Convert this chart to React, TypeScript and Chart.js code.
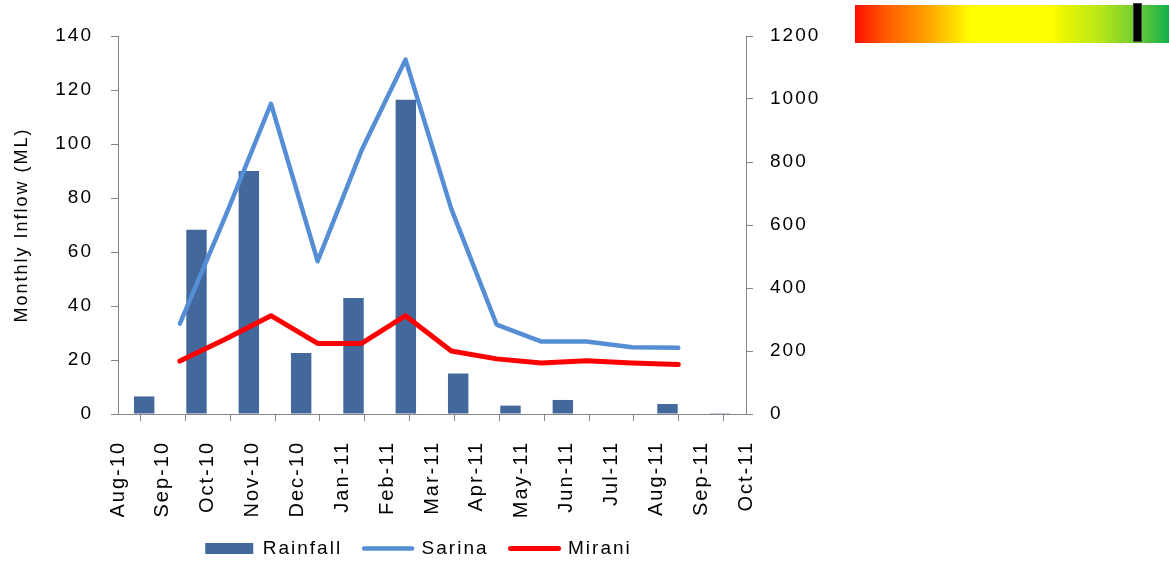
import React, { useEffect, useRef } from 'react';
import { Chart, registerables } from 'chart.js';

Chart.register(...registerables);

// Axis tick labels (month boundaries of the date axis)
const monthTicks = [
  'Aug-10', 'Sep-10', 'Oct-10', 'Nov-10', 'Dec-10', 'Jan-11', 'Feb-11', 'Mar-11',
  'Apr-11', 'May-11', 'Jun-11', 'Jul-11', 'Aug-11', 'Sep-11', 'Oct-11',
];

// Rainfall bars (left axis, 12 categories)
const rainfallMonths = [
  'Sep-10', 'Oct-10', 'Nov-10', 'Dec-10', 'Jan-11', 'Feb-11',
  'Mar-11', 'Apr-11', 'May-11', 'Jun-11', 'Jul-11', 'Aug-11',
];
const rainfall = [6.5, 68.2, 90, 22.6, 43, 116.4, 15, 3.1, 5.2, 0, 3.7, 0.3];

// Line series positions on the date axis (months since Aug-10)
const lineMonthPos = [1.38, 2.4, 3.41, 4.45, 5.43, 6.41, 7.43, 8.44, 9.44, 10.44, 11.46, 12.49];
const sarina = [287, 630, 985, 485, 837, 1125, 651, 284, 230, 230, 212, 210];
const mirani = [168, 238, 312, 224, 224, 312, 200, 175, 162, 169, 162, 157];

const FONT_FAMILY = "'Liberation Sans', Arial, Helvetica, sans-serif";
const AXIS_GRAY = '#868686';
const BAR_COLOR = '#43699C';
const SARINA_COLOR = '#558ED5';
const MIRANI_COLOR = '#FF0000';

const letterSpacingPlugin = {
  id: 'letterSpacingPlugin',
  beforeUpdate(chart: any) { chart.ctx.letterSpacing = '2px'; },
  beforeLayout(chart: any) { chart.ctx.letterSpacing = '2px'; },
  beforeDraw(chart: any) { chart.ctx.letterSpacing = '2px'; },
};

export default function App() {
  const canvasRef = useRef<HTMLCanvasElement | null>(null);

  useEffect(() => {
    if (!canvasRef.current) return;
    const font = { family: FONT_FAMILY, size: 19 };
    const chart = new Chart(canvasRef.current, {
      type: 'bar',
      data: {
        labels: rainfallMonths,
        datasets: [
          {
            type: 'bar',
            label: 'Rainfall',
            data: rainfall,
            backgroundColor: BAR_COLOR,
            borderWidth: 0,
            xAxisID: 'xb',
            yAxisID: 'y',
            grouped: false,
            barPercentage: 0.39,
            categoryPercentage: 1,
            order: 3,
          } as any,
          {
            type: 'line',
            label: 'Sarina',
            data: lineMonthPos.map((m, i) => ({ x: m, y: sarina[i] })),
            borderColor: SARINA_COLOR,
            backgroundColor: SARINA_COLOR,
            borderWidth: 4.5,
            pointRadius: 0,
            tension: 0,
            borderCapStyle: 'round',
            borderJoinStyle: 'round',
            xAxisID: 'x',
            yAxisID: 'y1',
            order: 2,
          } as any,
          {
            type: 'line',
            label: 'Mirani',
            data: lineMonthPos.map((m, i) => ({ x: m, y: mirani[i] })),
            borderColor: MIRANI_COLOR,
            backgroundColor: MIRANI_COLOR,
            borderWidth: 5,
            pointRadius: 0,
            tension: 0,
            borderCapStyle: 'round',
            borderJoinStyle: 'round',
            xAxisID: 'x',
            yAxisID: 'y1',
            order: 1,
          } as any,
        ],
      },
      options: {
        responsive: false,
        animation: false,
        devicePixelRatio: 1,
        events: [],
        layout: { padding: { top: 36, left: 0, right: 0, bottom: 0 } },
        plugins: {
          tooltip: { enabled: false },
          legend: {
            display: true,
            position: 'bottom',
            labels: {
              usePointStyle: true,
              pointStyleWidth: 48,
              boxHeight: 11,
              padding: 22,
              color: '#000',
              font,
              generateLabels: (c: any) =>
                c.data.datasets.map((ds: any, i: number) => ({
                  text: ds.label,
                  fillStyle: i === 0 ? BAR_COLOR : 'rgba(0,0,0,0)',
                  strokeStyle: i === 0 ? BAR_COLOR : ds.borderColor,
                  lineWidth: i === 0 ? 0 : ds.borderWidth,
                  lineCap: 'round',
                  pointStyle: i === 0 ? 'rect' : 'line',
                  hidden: false,
                  datasetIndex: i,
                  fontColor: '#000',
                })),
            },
          },
        },
        scales: {
          xb: {
            type: 'category',
            display: false,
            offset: true,
            grid: { display: false },
          },
          x: {
            type: 'linear',
            position: 'bottom',
            min: 0,
            max: 14,
            offset: false,
            ticks: {
              stepSize: 1,
              autoSkip: false,
              maxRotation: 90,
              minRotation: 90,
              padding: 20,
              color: '#000',
              font: { family: FONT_FAMILY, size: 20 },
              callback: (v: any) => monthTicks[Math.round(Number(v))] ?? '',
            },
            grid: { drawOnChartArea: false, drawTicks: true, tickLength: 7, color: AXIS_GRAY },
            border: { display: true, color: AXIS_GRAY, width: 1 },
            afterFit: (s: any) => { s.height = 103; },
          },
          y: {
            type: 'linear',
            position: 'left',
            min: 0,
            max: 140,
            ticks: { stepSize: 20, padding: 18, color: '#000', font, callback: (v: any) => String(v) },
            grid: { drawOnChartArea: false, drawTicks: true, tickLength: 7, color: AXIS_GRAY },
            border: { display: true, color: AXIS_GRAY, width: 1 },
            title: {
              display: true,
              text: 'Monthly Inflow (ML)',
              color: '#000',
              font: { family: FONT_FAMILY, size: 18 },
              padding: { top: 11, bottom: 0 },
            },
            afterFit: (s: any) => { s.width = 118; },
          },
          y1: {
            type: 'linear',
            position: 'right',
            min: 0,
            max: 1200,
            ticks: { stepSize: 200, padding: 17, color: '#000', font, callback: (v: any) => String(v) },
            grid: { drawOnChartArea: false, drawTicks: true, tickLength: 7, color: AXIS_GRAY },
            border: { display: true, color: AXIS_GRAY, width: 1 },
            afterFit: (s: any) => { s.width = 91; },
          },
        },
      } as any,
      plugins: [letterSpacingPlugin as any],
    });
    return () => chart.destroy();
  }, []);

  return (
    <div
      style={{
        position: 'absolute',
        left: 0,
        top: 0,
        width: 1169,
        height: 562,
        overflow: 'hidden',
        background: '#fff',
      }}
    >
      <canvas
        ref={canvasRef}
        width={837}
        height={568}
        style={{ position: 'absolute', left: 0, top: 0 }}
      />
      <div
        style={{
          position: 'absolute',
          left: 855,
          top: 5,
          width: 314,
          height: 38,
          background:
            'linear-gradient(to right, #ff1000 0%, #ff5a00 10%, #ff9000 20%, #ffd000 30%, #ffff00 37%, #ffff00 63%, #eef800 65%, #b8e618 78%, #6ccc34 90%, #10b04a 100%)',
        }}
      />
      <div
        style={{
          position: 'absolute',
          left: 1133,
          top: 3,
          width: 7,
          height: 37,
          background: '#000',
          border: '1px solid #444',
        }}
      />
    </div>
  );
}
